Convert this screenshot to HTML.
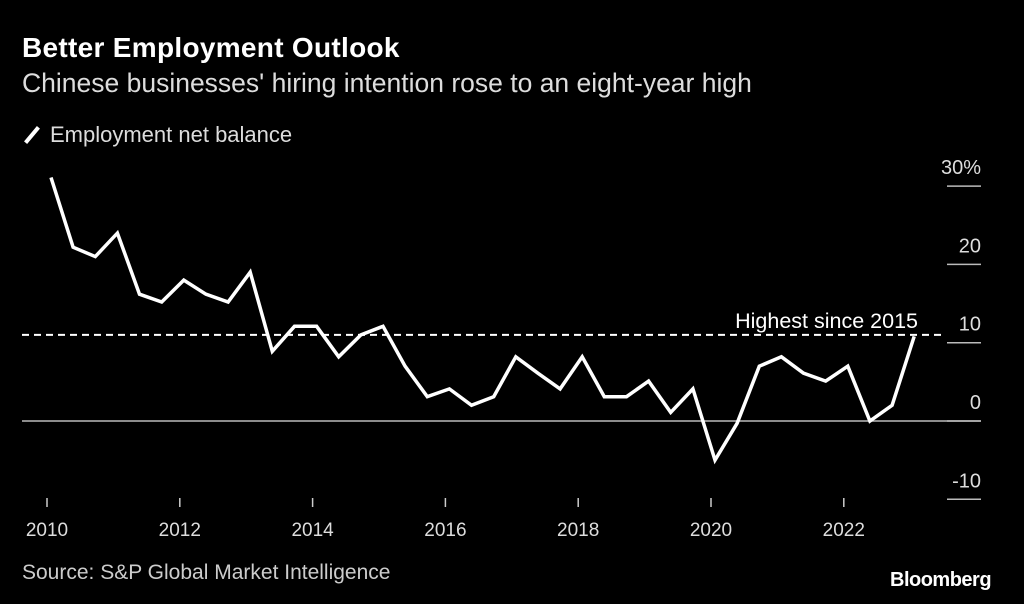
<!DOCTYPE html>
<html><head><meta charset="utf-8"><style>
html,body{margin:0;padding:0;background:#000;}
body{width:1024px;height:604px;overflow:hidden;font-family:"Liberation Sans",sans-serif;color:#fff;position:relative}
.t{position:absolute;white-space:nowrap}
</style></head><body>
<div class="t" style="left:22px;top:32px;font-size:28px;font-weight:bold;letter-spacing:0.3px">Better Employment Outlook</div>
<div class="t" style="left:22px;top:68px;font-size:26.5px;color:#ddd">Chinese businesses' hiring intention rose to an eight-year high</div>
<div class="t" style="left:22px;top:122px;font-size:22px;color:#ddd"><span style="display:inline-block;width:4px;height:20px;background:#fff;transform:rotate(40deg);margin:0 16px -3px 8px"></span>Employment net balance</div>
<div class="t" style="left:22px;top:561px;font-size:21px;color:#ccc">Source: S&amp;P Global Market Intelligence</div>
<div class="t" style="left:890px;top:569px;font-size:20px;font-weight:bold;letter-spacing:-0.5px">Bloomberg</div>
<svg id="chart" width="1024" height="604" style="position:absolute;left:0;top:0"></svg>
<script>
const values=[31.1,22.2,21,24,16.2,15.2,18,16.2,15.2,19,8.9,12.1,12.1,8.2,11,12.1,7,3.1,4.1,2,3.1,8.2,6.1,4.1,8.2,3.1,3.1,5.1,1.1,4.1,-5,-0.3,7,8.2,6.1,5.1,7,0,2,10.8];
const startYear=2010.06;
const yTicks=[30,20,10,0,-10];
const yLabels=["30%","20","10","0","-10"];
const xTicks=[2010,2012,2014,2016,2018,2020,2022];
const refValue=11;
const refLabel="Highest since 2015";
const NS="http://www.w3.org/2000/svg";
const svg=document.getElementById('chart');
const X=yr=>47+(yr-2010)*66.4;
const Y=v=>421-v*7.83;
function mk(t,a){const e=document.createElementNS(NS,t);for(const k in a)e.setAttribute(k,a[k]);svg.appendChild(e);return e;}
yTicks.forEach((v,i)=>{
 const l=mk('line',{x1:947,x2:981,y1:Y(v),y2:Y(v),stroke:'#bbb','stroke-width':1.5});
 
 
 const t=mk('text',{x:981,y:Y(v)-12,'text-anchor':'end',fill:'#ddd','font-size':20,'font-family':'Liberation Sans, sans-serif'});
 t.textContent=yLabels[i];
 
 
});
const z=mk('line',{x1:22,x2:981,y1:Y(0),y2:Y(0),stroke:'#bbb','stroke-width':1.5});


xTicks.forEach(yr=>{
 const l=mk('line',{x1:X(yr),x2:X(yr),y1:498,y2:507,stroke:'#ccc','stroke-width':1.5});
 
 
 const t=mk('text',{x:X(yr),y:536,'text-anchor':'middle',fill:'#ddd','font-size':19,'font-family':'Liberation Sans, sans-serif'});
 t.textContent=yr;
 
 
});
const r=mk('line',{x1:22,x2:945,y1:Y(refValue),y2:Y(refValue),stroke:'#fff','stroke-width':2,'stroke-dasharray':'7,5'});


const rt=mk('text',{x:918,y:Y(refValue)-7,'text-anchor':'end',fill:'#fff','font-size':21.5,'font-family':'Liberation Sans, sans-serif'});
rt.textContent=refLabel;


const pts=values.map((v,i)=>X(startYear+i/3).toFixed(1)+','+Y(v).toFixed(1)).join(' ');
const pl=mk('polyline',{points:pts,fill:'none',stroke:'#fff','stroke-width':3.5,'stroke-linejoin':'miter'});


</script>
</body></html>
